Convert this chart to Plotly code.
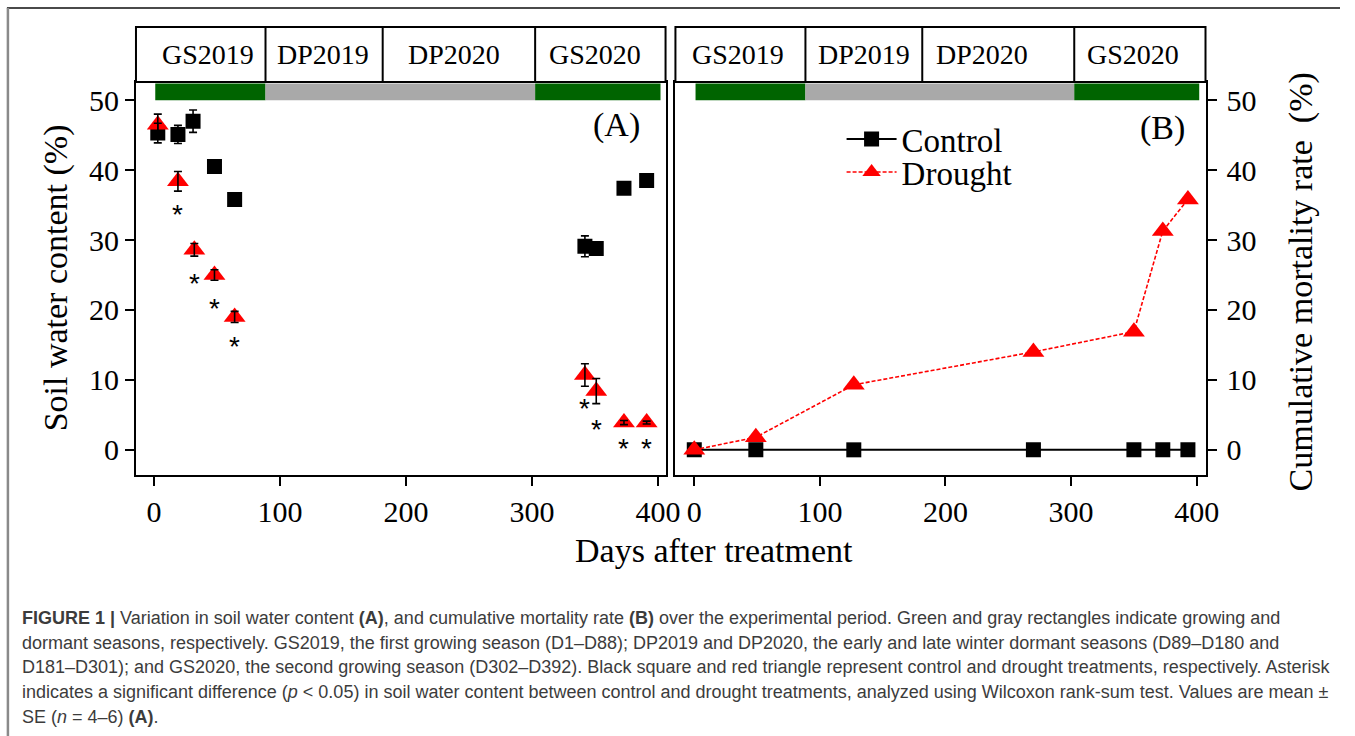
import plotly.graph_objects as go

# ---------------- data ----------------
# Panel A: soil water content (%)
days_ctrl_a = [3, 19, 31, 48, 64, 342, 351, 373, 391]
swc_ctrl = [45.3, 45.1, 47.0, 40.5, 35.8, 29.1, 28.8, 37.4, 38.5]
swc_ctrl_se = [1.4, 1.3, 1.6, 0.6, 0.6, 1.5, 0.7, 0.6, 0.5]
days_drt_a = [3, 19, 32, 48, 64, 342, 351, 373, 391]
swc_drt = [46.5, 38.4, 28.6, 25.0, 19.0, 10.7, 8.4, 3.9, 3.9]
swc_drt_se = [1.5, 1.4, 0.9, 0.75, 0.8, 1.6, 1.8, 0.3, 0.2]
sig_days = [19, 32, 48, 64, 342, 351, 373, 391]
sig_y = [34.5, 24.6, 21.0, 15.7, 6.7, 3.7, 1.0, 1.1]

# Panel B: cumulative mortality rate (%)
days_b = [0, 49, 127, 270, 350, 373, 393]
mort_ctrl = [0, 0, 0, 0, 0, 0, 0]
mort_drt = [0, 1.8, 9.3, 14.0, 16.9, 31.3, 35.8]

# Seasons
season_labels = ["GS2019", "DP2019", "DP2020", "GS2020"]
season_label_x_a = [43, 134, 238, 350]
season_label_x_b = [35, 135, 229, 349]
strip_breaks = [88.5, 181.5, 302.5]
bar_start = [1, 88.5, 302.5]
bar_end = [88.5, 302.5, 402]
bar_color = ["#006400", "#A9A9A9", "#006400"]
bar_ymin, bar_ymax = 50, 52.4

x_ticks = [0, 100, 200, 300, 400]
y_ticks = [0, 10, 20, 30, 40, 50]

caption_lines = [
    "<b>FIGURE 1 |</b> Variation in soil water content <b>(A)</b>, and cumulative mortality rate <b>(B)</b> over the experimental period. Green and gray rectangles indicate growing and",
    "dormant seasons, respectively. GS2019, the first growing season (D1–D88); DP2019 and DP2020, the early and late winter dormant seasons (D89–D180 and",
    "D181–D301); and GS2020, the second growing season (D302–D392). Black square and red triangle represent control and drought treatments, respectively. Asterisk",
    "indicates a significant difference (<i>p</i> &lt; 0.05) in soil water content between control and drought treatments, analyzed using Wilcoxon rank-sum test. Values are mean ±",
    "SE (<i>n</i> = 4–6) <b>(A)</b>.",
]

# ---------------- layout geometry (pixels) ----------------
W, H = 1355, 736
def fx(p):
    return p / W
def fy(p):
    return 1 - p / H

A_L, A_R = 137.5, 673
B_L, B_R = 683, 1219
P_T, P_B = 82, 475
S_T = 27
SERIF = "Liberation Serif, Times New Roman, serif"

fig = go.Figure()

# Panel A traces
fig.add_trace(go.Scatter(x=days_ctrl_a, y=swc_ctrl, mode="markers", xaxis="x", yaxis="y",
                         marker=dict(symbol="square", size=15, color="black"), showlegend=False))
fig.add_trace(go.Scatter(x=days_drt_a, y=swc_drt, mode="markers", xaxis="x", yaxis="y",
                         marker=dict(symbol="triangle-up", size=19, color="#FF0000"), showlegend=False))
fig.add_trace(go.Scatter(x=days_ctrl_a, y=swc_ctrl, mode="markers", xaxis="x", yaxis="y",
                         marker=dict(size=1, opacity=0),
                         error_y=dict(type="data", array=swc_ctrl_se, color="black", thickness=1.6, width=4),
                         showlegend=False, hoverinfo="skip"))
fig.add_trace(go.Scatter(x=days_drt_a, y=swc_drt, mode="markers", xaxis="x", yaxis="y",
                         marker=dict(size=1, opacity=0),
                         error_y=dict(type="data", array=swc_drt_se, color="black", thickness=1.6, width=4),
                         showlegend=False, hoverinfo="skip"))

# Panel B traces
fig.add_trace(go.Scatter(x=days_b, y=mort_ctrl, mode="lines+markers", xaxis="x2", yaxis="y2",
                         name="Control", legend="legend",
                         line=dict(color="black", width=2),
                         marker=dict(symbol="square", size=15, color="black")))
fig.add_trace(go.Scatter(x=days_b, y=mort_drt, mode="lines+markers", xaxis="x2", yaxis="y2",
                         name="Drought", legend="legend2",
                         line=dict(color="#FF0000", width=1.6, dash="4px,2px"),
                         marker=dict(symbol="triangle-up", size=19, color="#FF0000")))

shapes = []
annotations = []

# season bars, strip boxes
for xa, ya, L, R, lab_x in [("x", "y", A_L, A_R, season_label_x_a), ("x2", "y2", B_L, B_R, season_label_x_b)]:
    for s, e, c in zip(bar_start, bar_end, bar_color):
        shapes.append(dict(type="rect", xref=xa, yref=ya, x0=s, x1=e, y0=bar_ymin, y1=bar_ymax,
                           fillcolor=c, line=dict(width=0), layer="below"))
    shapes.append(dict(type="rect", xref="paper", yref="paper", x0=fx(L), x1=fx(R), y0=fy(P_T), y1=fy(S_T),
                       line=dict(color="black", width=2), fillcolor="white"))
    for b in strip_breaks:
        shapes.append(dict(type="line", xref=xa, yref="paper", x0=b, x1=b, y0=fy(P_T), y1=fy(S_T),
                           line=dict(color="black", width=2)))
    for lab, lx in zip(season_labels, lab_x):
        annotations.append(dict(text=lab, x=lx, xref=xa, y=fy((S_T + P_T) / 2), yref="paper",
                                showarrow=False, xanchor="center", yanchor="middle",
                                font=dict(family=SERIF, size=28, color="black")))

# significance asterisks
for sx, sy in zip(sig_days, sig_y):
    annotations.append(dict(text="*", x=sx, y=sy, xref="x", yref="y", showarrow=False,
                            xanchor="center", yanchor="middle", yshift=-6,
                            font=dict(family="Liberation Sans, Arial, sans-serif", size=28, color="black")))

# panel tags
annotations.append(dict(text="(A)", x=367, y=46.4, xref="x", yref="y", showarrow=False,
                        font=dict(family=SERIF, size=34, color="black")))
annotations.append(dict(text="(B)", x=373, y=46.0, xref="x2", yref="y2", showarrow=False,
                        font=dict(family=SERIF, size=34, color="black")))

# axis titles
annotations.append(dict(text="Soil water content (%)", x=fx(57), y=fy(278), xref="paper", yref="paper",
                        showarrow=False, textangle=-90, xanchor="center", yanchor="middle",
                        font=dict(family=SERIF, size=34, color="black")))
annotations.append(dict(text="Cumulative mortality rate  (%)", x=fx(1316), y=fy(282), xref="paper", yref="paper",
                        showarrow=False, textangle=-90, xanchor="center", yanchor="middle",
                        font=dict(family=SERIF, size=34, color="black")))
annotations.append(dict(text="Days after treatment", x=fx(722), y=fy(550), xref="paper", yref="paper",
                        showarrow=False, xanchor="center", yanchor="middle",
                        font=dict(family=SERIF, size=34, color="black")))

# caption
for i, line in enumerate(caption_lines):
    annotations.append(dict(text=line, x=fx(20), y=fy(618 + 24.7 * i), xref="paper", yref="paper",
                            showarrow=False, xanchor="left", yanchor="middle", align="left",
                            font=dict(family="Liberation Sans, Arial, sans-serif", size=18, color="#3c3c3c")))

# outer frame
shapes.append(dict(type="line", xref="paper", yref="paper", x0=fx(7), x1=1, y0=fy(8), y1=fy(8),
                   line=dict(color="#4a4a4a", width=2)))
shapes.append(dict(type="line", xref="paper", yref="paper", x0=fx(8), x1=fx(8), y0=0, y1=fy(8),
                   line=dict(color="#8a8a8a", width=2.5)))

axis_common = dict(showline=True, linewidth=2, linecolor="black", mirror=True, showgrid=False,
                   zeroline=False, ticks="outside", ticklen=9, tickwidth=2, tickcolor="black",
                   tickfont=dict(family=SERIF, size=30, color="black"))

fig.update_layout(
    width=W, height=H, margin=dict(l=0, r=0, t=0, b=0),
    paper_bgcolor="white", plot_bgcolor="white",
    xaxis=dict(domain=[fx(A_L), fx(A_R)], range=[-14.3, 406], tickvals=x_ticks, anchor="y", **axis_common),
    yaxis=dict(domain=[fy(P_B), fy(P_T)], range=[-3.6, 52.6], tickvals=y_ticks, anchor="x", **axis_common),
    xaxis2=dict(domain=[fx(B_L), fx(B_R)], range=[-15, 407], tickvals=x_ticks, anchor="y2", **axis_common),
    yaxis2=dict(domain=[fy(P_B), fy(P_T)], range=[-3.6, 52.6], tickvals=y_ticks, anchor="x2", side="right",
                ticklabelstandoff=4, **axis_common),
    legend=dict(x=fx(851), y=fy(139), xanchor="left", yanchor="middle", bgcolor="rgba(0,0,0,0)",
                itemwidth=50, font=dict(family=SERIF, size=33, color="black")),
    legend2=dict(x=fx(851), y=fy(172), xanchor="left", yanchor="middle", bgcolor="rgba(0,0,0,0)",
                 itemwidth=50, font=dict(family=SERIF, size=33, color="black")),
    shapes=shapes, annotations=annotations,
)

fig.write_html("out.html", config={"displayModeBar": False},
               post_script="document.body.style.margin='0';document.body.style.overflow='hidden';")
